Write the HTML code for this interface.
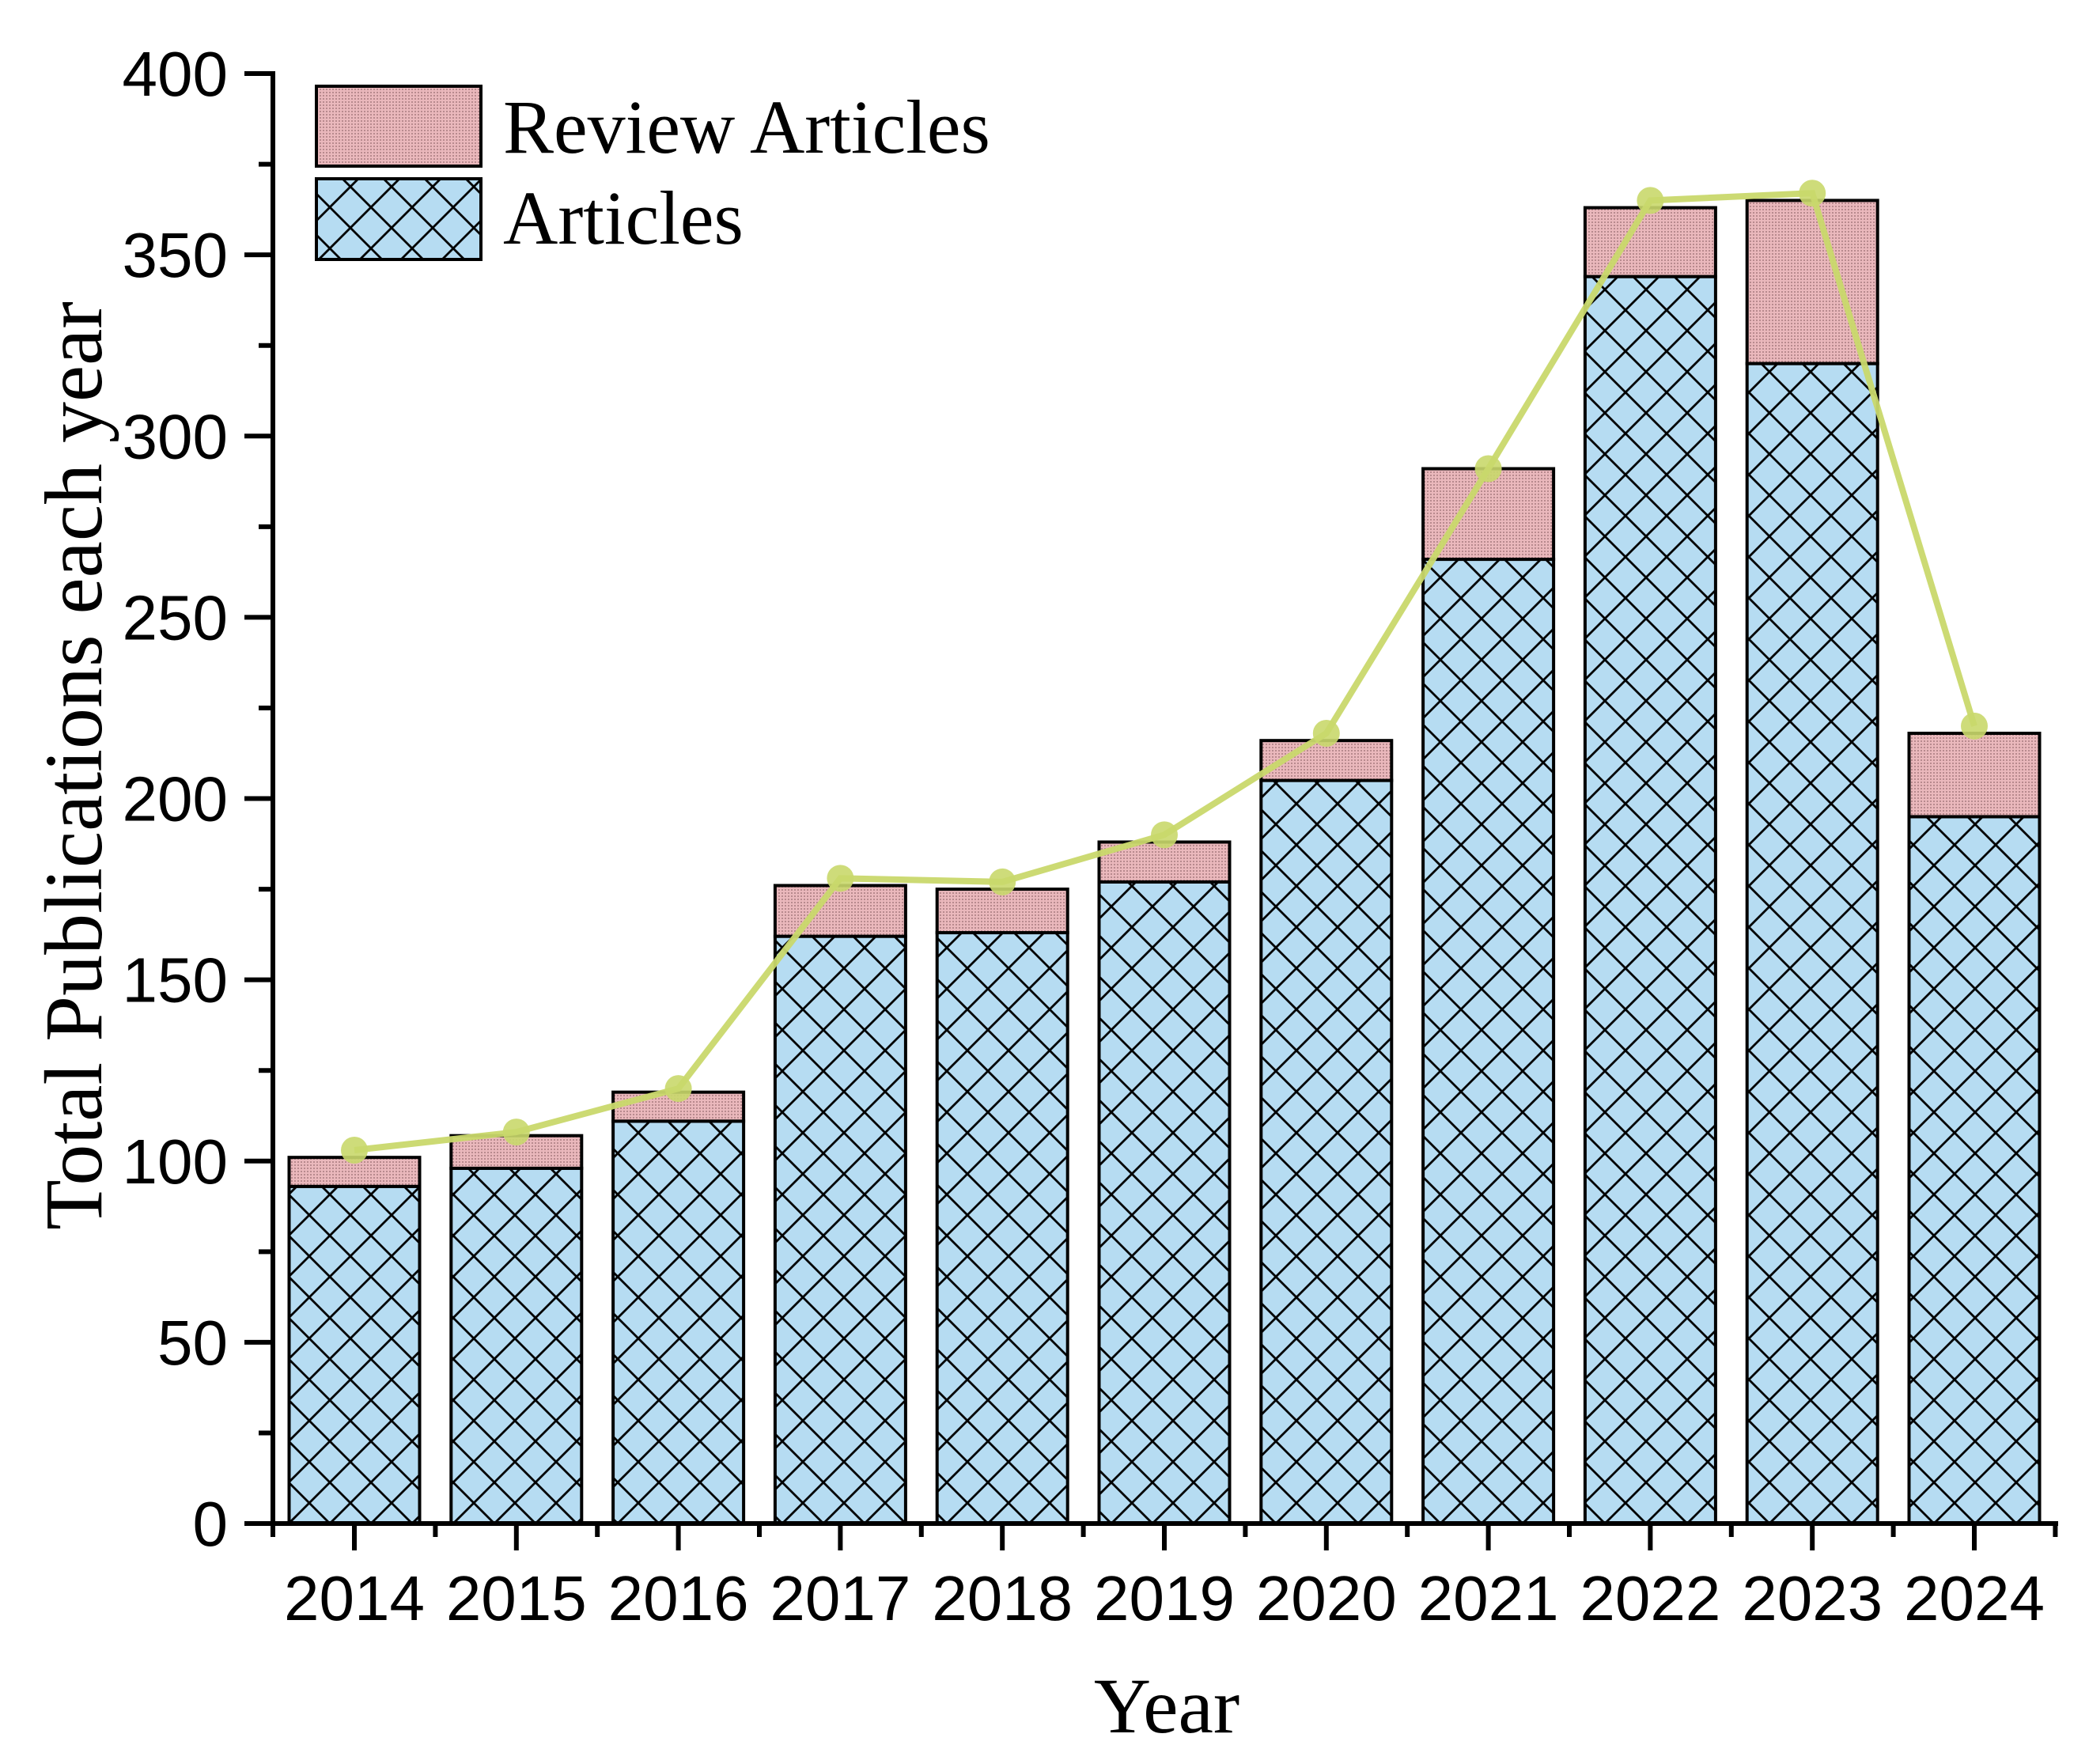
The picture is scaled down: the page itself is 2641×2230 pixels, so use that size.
<!DOCTYPE html>
<html><head><meta charset="utf-8"><style>
html,body{margin:0;padding:0;background:#fff;}
svg{display:block;}
</style></head><body>
<svg id="chart" width="2641" height="2230" viewBox="0 0 2641 2230" xmlns="http://www.w3.org/2000/svg">
<defs>
<pattern id="xhatch" patternUnits="userSpaceOnUse" width="52" height="52" x="365" y="1926">
<rect width="52" height="52" fill="#b6dcf2"/>
<path d="M0 0L52 52M52 0L0 52" stroke="#000" stroke-width="2.8" fill="none"/>
</pattern>
<pattern id="dots" patternUnits="userSpaceOnUse" width="4" height="4">
<rect width="4" height="4" fill="#eab8bc"/>
<rect width="2" height="2" fill="#b88a8e"/>
</pattern>
</defs>
<g id="bars"></g>
<g id="line"></g>
<g id="axes"></g>
<g>
<rect x="400" y="109" width="208" height="101" fill="url(#dots)" stroke="#000" stroke-width="4"/>
<text x="636" y="193" font-family="Liberation Serif, serif" font-size="96">Review Articles</text>
<rect x="400" y="226" width="208" height="102" fill="url(#xhatch)" stroke="#000" stroke-width="4"/>
<text x="636" y="308" font-family="Liberation Serif, serif" font-size="96">Articles</text>
</g>
<text x="1475" y="2190" text-anchor="middle" font-family="Liberation Serif, serif" font-size="100">Year</text>
<text transform="translate(128,968) rotate(-90)" text-anchor="middle" font-family="Liberation Serif, serif" font-size="104">Total Publications each year</text>
</svg>
<script>
const years = ['2014','2015','2016','2017','2018','2019','2020','2021','2022','2023','2024'];
const articles = [93,98,111,162,163,177,205,266,344,320,195];
const totals = [101,107,119,176,175,188,216,291,363,365,218];
const lineTotals = [103,108,120,178,177,190,218,291,365,367,220];
const yTicks = [0,50,100,150,200,250,300,350,400];

const NS='http://www.w3.org/2000/svg';
const X0=345, Y0=1926, X1=2602, YTOP=93;
const step=204.8, first=448, barW=165;
const xc=i=>first+i*step;
const yv=v=>Y0-(v/400)*(Y0-YTOP);
function mk(tag,attrs,parent){const e=document.createElementNS(NS,tag);for(const k in attrs)e.setAttribute(k,attrs[k]);parent.appendChild(e);return e;}
const bars=document.getElementById('bars'), line=document.getElementById('line'), axes=document.getElementById('axes');
years.forEach((y,i)=>{
  const l=xc(i)-barW/2;
  const a=mk('rect',{x:l,y:yv(articles[i]),width:barW,height:Y0-yv(articles[i]),fill:'url(#xhatch)',stroke:'#000','stroke-width':4},bars);
  
  
  const r=mk('rect',{x:l,y:yv(totals[i]),width:barW,height:yv(articles[i])-yv(totals[i]),fill:'url(#dots)',stroke:'#000','stroke-width':4},bars);
  
  
});
const pts=lineTotals.map((v,i)=>xc(i)+','+yv(v)).join(' ');
const pl=mk('polyline',{points:pts,fill:'none',stroke:'#c9d86c','stroke-width':8,'stroke-opacity':0.95},line);


lineTotals.forEach((v,i)=>{
  const c=mk('circle',{cx:xc(i),cy:yv(v),r:17,fill:'#c9d86c','fill-opacity':0.9},line);
  
  
});
const ya=mk('line',{x1:X0,y1:YTOP-3,x2:X0,y2:Y0+3,stroke:'#000','stroke-width':6},axes);


const xa=mk('line',{x1:X0-20,y1:Y0,x2:X1,y2:Y0,stroke:'#000','stroke-width':6},axes);


yTicks.forEach(t=>{
  const tk=mk('line',{x1:X0-36,y1:yv(t),x2:X0,y2:yv(t),stroke:'#000','stroke-width':6},axes);
  
  
  if(t<400){const m=mk('line',{x1:X0-18,y1:yv(t+25),x2:X0,y2:yv(t+25),stroke:'#000','stroke-width':6},axes);
  
  }
  const tx=mk('text',{x:288,y:yv(t)+28,'text-anchor':'end','font-family':'Liberation Sans, sans-serif','font-size':80},axes);
  tx.textContent=t;
  
  
});
years.forEach((y,i)=>{
  const tk=mk('line',{x1:xc(i),y1:Y0,x2:xc(i),y2:Y0+34,stroke:'#000','stroke-width':6},axes);
  
  
  const m=mk('line',{x1:xc(i)+step/2,y1:Y0,x2:xc(i)+step/2,y2:Y0+17,stroke:'#000','stroke-width':6},axes);
  
  
  const tx=mk('text',{x:xc(i),y:2048,'text-anchor':'middle','font-family':'Liberation Sans, sans-serif','font-size':80},axes);
  tx.textContent=y;
  
  
});
const m0=mk('line',{x1:X0,y1:Y0,x2:X0,y2:Y0+17,stroke:'#000','stroke-width':6},axes);


</script>
</body></html>
